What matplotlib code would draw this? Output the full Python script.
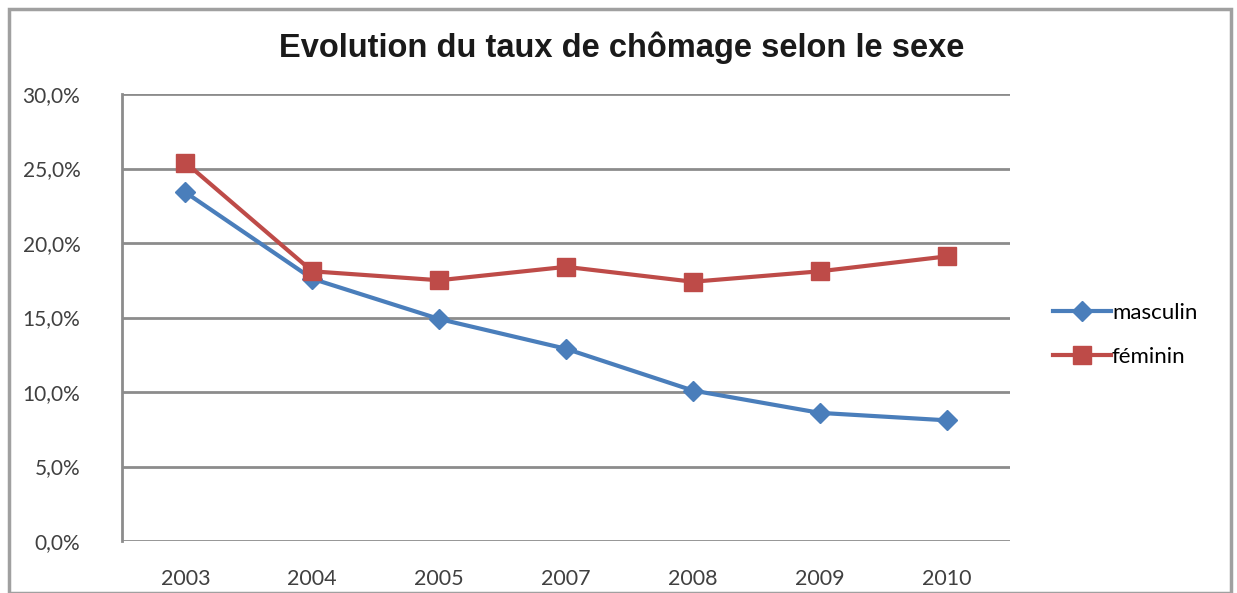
import matplotlib.pyplot as plt
from matplotlib.ticker import FuncFormatter
from matplotlib.patches import Rectangle

years = ["2003", "2004", "2005", "2007", "2008", "2009", "2010"]
masculin = [23.4, 17.6, 14.9, 12.9, 10.1, 8.6, 8.1]
feminin = [25.4, 18.1, 17.5, 18.4, 17.4, 18.1, 19.1]

fig = plt.figure(figsize=(12.37, 5.93), dpi=100)
ax = fig.add_axes([122 / 1237, 1 - 541 / 593, (1010 - 122) / 1237, (541 - 94) / 593])

x = range(len(years))
ax.plot(x, masculin, color="#4A7EBB", lw=3, marker="D", ms=10, label="masculin")
ax.plot(x, feminin, color="#BE4B48", lw=3, marker="s", ms=13, label="féminin")

ax.set_xlim(-0.5, len(years) - 0.5)
ax.set_ylim(0, 30)
ax.set_yticks(range(0, 31, 5))
ax.yaxis.set_major_formatter(FuncFormatter(lambda v, p: f"{v:.1f}%".replace(".", ",")))
ax.set_xticks(list(x))
ax.set_xticklabels(years)
ax.grid(axis="y", color="#8C8C8C", lw=2)
ax.set_axisbelow(True)
for s in ["top", "right", "bottom"]:
    ax.spines[s].set_visible(False)
ax.spines["left"].set_color("#8C8C8C")
ax.spines["left"].set_linewidth(2)
ax.tick_params(axis="y", length=0, labelsize=15, colors="#404040", pad=30)
ax.tick_params(axis="x", length=0, labelsize=15.5, colors="#404040", pad=20)
for lab in ax.get_xticklabels() + ax.get_yticklabels():
    lab.set_family("Lato")

fig.text(622 / 1237, 1 - 48 / 593, "Evolution du taux de chômage selon le sexe",
         ha="center", va="center", fontsize=23.5, fontweight="bold",
         family="Liberation Sans", color="#1a1a1a")

leg = fig.legend(loc="center left", bbox_to_anchor=(1033 / 1237, 1 - 335 / 593),
                 frameon=False, handlelength=2.6, handletextpad=0.05,
                 labelspacing=1.1, prop={"family": "Lato", "size": 16})

fig.patches.append(Rectangle((9 / 1237, 0), 1222 / 1237, 1 - 9 / 593,
                             transform=fig.transFigure, fill=False,
                             edgecolor="#A0A0A0", lw=2.5))

fig.savefig("out.png", dpi=100)
